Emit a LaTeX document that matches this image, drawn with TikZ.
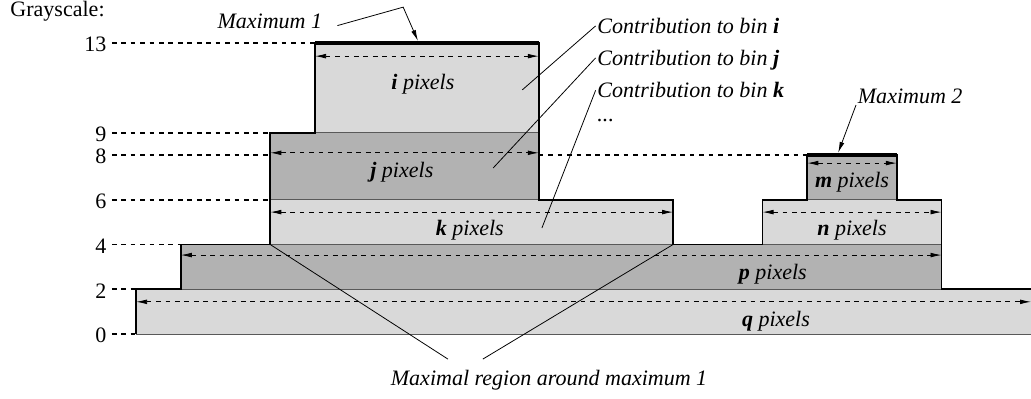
\documentclass[tikz,border=0pt]{standalone}
\usepackage{fontspec}
\setmainfont{Liberation Serif}
\usetikzlibrary{arrows.meta}

\newcommand{\figfont}{\fontsize{14}{17}\selectfont}

\tikzset{
  lightbin/.style={fill=black!15, draw=black!65, line width=0.5pt},
  darkbin/.style={fill=black!30, draw=black!65, line width=0.5pt},
  levelline/.style={dashed, line width=1.1pt},
  widtharrow/.style={dashed, line width=0.5pt, {Latex[length=7pt,width=3pt]}-{Latex[length=7pt,width=3pt]}},
  pointer/.style={line width=0.5pt, -{Latex[length=7pt,width=3pt]}},
  lvl/.style={font=\figfont},
  lbl/.style={font=\figfont\itshape, inner sep=1pt, text depth=0pt},
}

\begin{document}
\begin{tikzpicture}[x=1cm,y=0.5cm]
\useasboundingbox (-3.04,-2.86) rectangle (20,14.93);

% bins, bottom up
\draw[lightbin] (0,0) rectangle (20.3,2);
\draw[darkbin] (1,2) rectangle (18,4);
\draw[lightbin] (3,4) rectangle (12,6);
\draw[lightbin] (14,4) rectangle (18,6);
\draw[darkbin] (3,6) rectangle (9,9);
\draw[darkbin] (15,6) rectangle (17,8);
\draw[lightbin] (4,9) rectangle (9,13);

% outline
\draw[line width=1.2pt] (0,0) -- (0,2) -- (1,2) -- (1,4) -- (3,4) -- (3,9) -- (4,9) -- (4,13) -- (9,13) -- (9,6) -- (12,6) -- (12,4) -- (14,4) -- (14,6) -- (15,6) -- (15,8) -- (17,8) -- (17,6) -- (18,6) -- (18,2) -- (20.3,2);
\draw[line width=2.6pt] (4,13) -- (9,13);
\draw[line width=2.6pt] (15,8) -- (17,8);

% grayscale axis
\node[lvl,anchor=base west] (gscale) at (-2.93,14.17) {Grayscale:};
\foreach \lv/\xe in {13/4,9/3,8/3,6/3,4/1,2/0,0/0}{
	\node[lvl,anchor=east,yshift=-1pt] (lv\lv) at (-0.54,\lv) {\lv};
	\draw[levelline] (lv\lv.east |- 0,\lv) -- (\xe,\lv);
	}
\draw[levelline] (9,8) -- (15,8);

% widths
\draw[widtharrow] (4,12.42) -- (9,12.42);
\draw[widtharrow] (3,8.1) -- (9,8.1);
\draw[widtharrow] (3,5.45) -- (12,5.45);
\draw[widtharrow] (14,5.45) -- (18,5.45);
\draw[widtharrow] (15,7.64) -- (17,7.64);
\draw[widtharrow] (1,3.53) -- (18,3.53);
\draw[widtharrow] (0,1.44) -- (20,1.44);

\foreach \b/\x/\y in {i/6.41/11.26, j/5.94/7.33, k/7.46/4.74, m/16/6.88, n/16/4.74, p/14.23/2.77, q/14.3/0.67}{
	\node[lbl] (px\b) at (\x,\y) {\textbf{\b} pixels};
	}

% maxima
\node[lbl,anchor=base] (maxone) at (2.99,13.66) {Maximum 1};
\coordinate (bendone) at (5.97,14.61);
\coordinate (peakone) at (6.3,13.1);
\draw[pointer] ([shift={(0.3,-0.2)}]maxone.east) -- (bendone) -- (peakone);

\node[lbl,anchor=base] (maxtwo) at (17.3,10.32) {Maximum 2};
\coordinate (peaktwo) at (15.69,8.1);
\draw[pointer] (maxtwo.south west) -- (peaktwo);

% contributions
\node[lbl,anchor=base west] (cbi) at (10.27,13.43) {Contribution to bin \textbf{i}};
\node[lbl,anchor=base west] (cbj) at (10.27,12.0) {Contribution to bin \textbf{j}};
\node[lbl,anchor=base west] (cbk) at (10.27,10.55) {Contribution to bin \textbf{k}};
\node[lbl,anchor=base west] (cbdots) at (10.27,9.48) {...};
\coordinate (endi) at (8.63,10.91);
\coordinate (endj) at (7.98,7.42);
\coordinate (endk) at (9.07,4.74);
\draw[line width=0.5pt] (cbi.west) -- (endi);
\draw[line width=0.5pt] (cbj.west) -- (endj);
\draw[line width=0.5pt] (cbk.west) -- (endk);

% maximal region
\node[lbl,anchor=base] (maxreg) at (9.23,-2.28) {Maximal region around maximum 1};
\coordinate (kleft) at (3,4);
\coordinate (kright) at (12,4);
\coordinate (regl) at (6.97,-1.12);
\coordinate (regr) at (7.75,-1.12);
\draw[line width=0.5pt] (kleft) -- (regl);
\draw[line width=0.5pt] (kright) -- (regr);
\end{tikzpicture}
\end{document}
